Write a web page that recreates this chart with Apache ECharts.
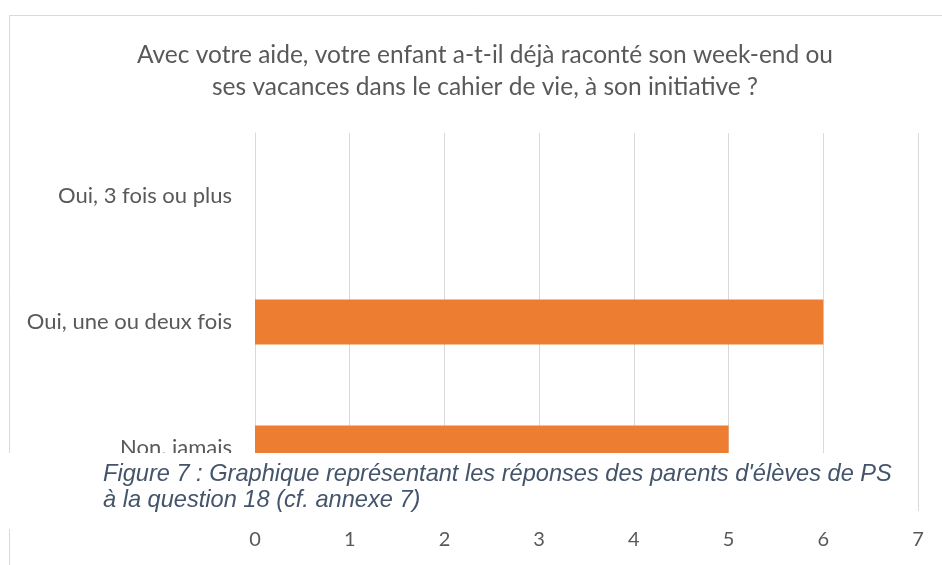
<!DOCTYPE html>
<html>
<head>
  <meta charset="utf-8">
  <title>ECharts</title>
  <script src="https://cdn.jsdelivr.net/npm/echarts@6/dist/echarts.min.js"></script>
  <style>
    body { margin: 0; background: #fff; }
  </style>
</head>
<body>
<div id="main" style="width: 942px;height:565px;"></div>
<script type="text/javascript">
  // données
  var categories = ['Oui, 3 fois ou plus', 'Oui, une ou deux fois', 'Non, jamais'];
  var reponses = [0, 6, 5];
  var ticks = [0, 1, 2, 3, 4, 5, 6, 7];

  var myChart = echarts.init(document.getElementById('main'));

  var option = {
    backgroundColor: '#fff',
    title: {
      text: 'Avec votre aide, votre enfant a-t-il déjà raconté son week-end ou\nses vacances dans le cahier de vie, à son initiative ?',
      left: 480,
      top: 34,
      textAlign: 'center',
      textStyle: {
        fontFamily: 'Lato',
        fontWeight: 'normal',
        fontSize: 24.5,
        lineHeight: 32,
        color: '#595959'
      }
    },
    grid: {
      left: 255,
      right: 24,
      top: 133,
      bottom: 54
    },
    xAxis: {
      type: 'value',
      min: ticks[0],
      max: ticks[ticks.length - 1],
      interval: 1,
      axisLine: { show: false },
      axisTick: { show: false },
      splitLine: { lineStyle: { color: '#d9d9d9', width: 1 } },
      axisLabel: {
        margin: 19,
        fontFamily: 'Lato',
        fontSize: 20,
        color: '#595959'
      }
    },
    yAxis: {
      type: 'category',
      inverse: true,
      data: categories,
      axisLine: { show: true, lineStyle: { color: '#d9d9d9' } },
      axisTick: { show: false },
      axisLabel: {
        margin: 23,
        fontFamily: 'Lato',
        fontSize: 22,
        color: '#595959'
      }
    },
    series: [{
      name: 'Réponses',
      type: 'bar',
      data: reponses,
      barWidth: 45,
      itemStyle: { color: '#ED7D31' }
    }],
    graphic: [
      {
        type: 'rect',
        z: 100,
        shape: { x: 9.5, y: 15.5, width: 1000, height: 600 },
        style: { fill: null, stroke: '#d9d9d9', lineWidth: 1 }
      },
      {
        type: 'rect',
        z: 101,
        shape: { x: 0, y: 453, width: 913, height: 76 },
        style: { fill: '#fff' }
      },
      {
        type: 'text',
        z: 102,
        left: 103,
        top: 461,
        style: {
          text: "Figure 7 : Graphique représentant les réponses des parents d'élèves de PS\nà la question 18 (cf. annexe 7)",
          font: 'italic 23.6px "Liberation Sans"',
          lineHeight: 26,
          fill: '#44546A'
        }
      }
    ]
  };

  myChart.setOption(option);
</script>
</body>
</html>
